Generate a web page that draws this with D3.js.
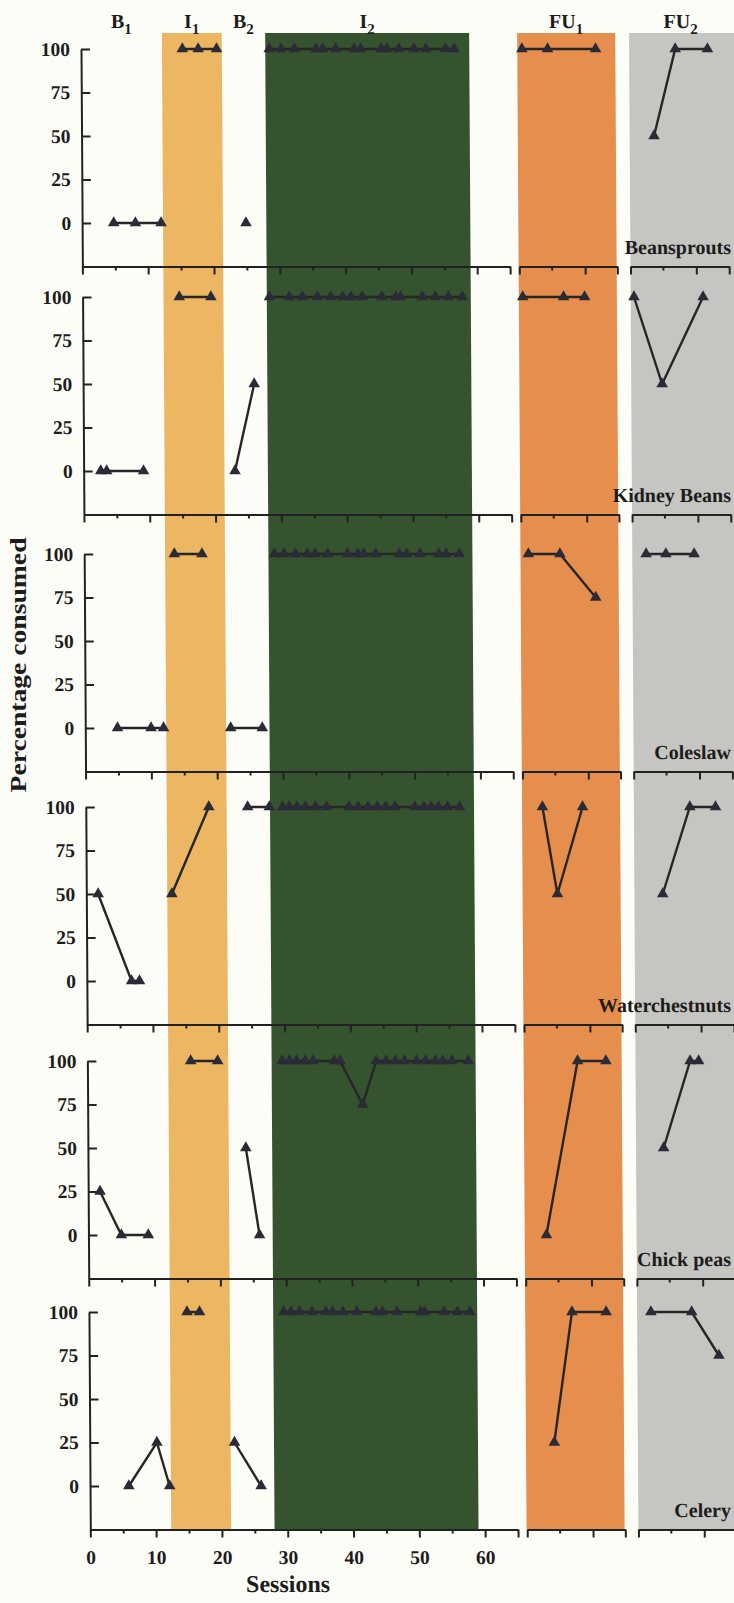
<!DOCTYPE html>
<html>
<head>
<meta charset="utf-8">
<script src="https://cdn.jsdelivr.net/npm/d3@7"></script>
<style>
  body { margin: 0; background: #fdfdf7; }
  svg { display: block; }
  text { font-family: "Liberation Serif", "DejaVu Serif", serif; font-weight: bold; fill: #1c1c1c; }
  .axis path, .axis line { stroke: #222; stroke-width: 2; }
  .axis text { font-family: "Liberation Serif", serif; font-weight: bold; fill: #1c1c1c; }
</style>
</head>
<body>
<div id="chart"></div>
<script>
// foods, one panel each (top to bottom)
var foods = ["Beansprouts", "Kidney Beans", "Coleslaw", "Waterchestnuts", "Chick peas", "Celery"];

// phases: label, subscript, sessions covered by the shaded band
var phaseNames = ["B", "I", "B", "I", "FU", "FU"];
var phaseSubs = ["1", "1", "2", "2", "1", "2"];
var phaseStart = [0, 12.3, 21.4, 28, 66.3, 83.3];
var phaseEnd = [12.3, 21.4, 28, 59, 81.2, 99.5];

// follow-up axes (sessions) and their ticks
var fu1Ticks = [66.4, 71.4, 76.4, 81.3];
var fu2Ticks = [83.3, 88.3, 93.3, 98.3];

var yTicks = [0, 25, 50, 75, 100];
var xLabels = [0, 10, 20, 30, 40, 50, 60];

// [session, percentage consumed], one array per phase
var beansprouts = [
  [[4.8, 0], [8.1, 0], [12, 0]],
  [[15.4, 100], [17.8, 100], [20.6, 100]],
  [[24.9, 0]],
  [[28.6, 100], [30.4, 100], [32.4, 100], [35.7, 100], [36.7, 100], [38.7, 100], [41.5, 100], [42.5, 100],
   [45.6, 100], [46.5, 100], [48.3, 100], [50.6, 100], [52.4, 100], [55.4, 100], [56.7, 100]],
  [[67, 100], [70.9, 100], [78.2, 100]],
  [[87, 50], [90.3, 100], [95.2, 100]]
];
var kidneyBeans = [
  [[2.6, 0], [3.5, 0], [9.1, 0]],
  [[14.7, 100], [19.5, 100]],
  [[23, 0], [26, 50]],
  [[28.4, 100], [31.4, 100], [33.4, 100], [35.7, 100], [37.7, 100], [39.5, 100], [40.8, 100], [42.5, 100],
   [45.5, 100], [47.6, 100], [48.3, 100], [51.6, 100], [53.6, 100], [55.6, 100], [57.7, 100]],
  [[66.9, 100], [73.1, 100], [76.3, 100]],
  [[83.8, 100], [88, 50], [94.3, 100]]
];
var coleslaw = [
  [[4.9, 0], [10, 0], [11.9, 0]],
  [[13.7, 100], [17.9, 100]],
  [[22.1, 0], [26.9, 0]],
  [[28.9, 100], [30.4, 100], [32.1, 100], [33.9, 100], [35.1, 100], [37, 100], [40, 100], [41.6, 100],
   [42.5, 100], [44.3, 100], [47.9, 100], [49, 100], [51, 100], [53.9, 100], [55, 100], [57, 100]],
  [[67.5, 100], [72.3, 100], [77.7, 75]],
  [[85.4, 100], [88.4, 100], [92.7, 100]]
];
var waterchestnuts = [
  [[1.8, 50], [6.8, 0], [8, 0]],
  [[13, 50], [18.7, 100]],
  [[24.6, 100], [27.9, 100]],
  [[29.9, 100], [30.9, 100], [32.1, 100], [33.4, 100], [34.9, 100], [36.6, 100], [40, 100], [41.4, 100],
   [42.9, 100], [44.3, 100], [45.6, 100], [47, 100], [50, 100], [51.4, 100], [52.5, 100], [53.6, 100],
   [55, 100], [56.8, 100]],
  [[69.4, 100], [71.6, 50], [75.5, 100]],
  [[87.6, 50], [91.8, 100], [95.7, 100]]
];
var chickPeas = [
  [[1.8, 25], [5, 0], [9.1, 0]],
  [[15.7, 100], [19.8, 100]],
  [[24, 50], [26, 0]],
  [[29.6, 100], [30.7, 100], [31.8, 100], [33.1, 100], [34.3, 100], [37.5, 100], [38.4, 100], [41.8, 75],
   [43.9, 100], [45.4, 100], [46.8, 100], [48.2, 100], [50, 100], [51.4, 100], [52.9, 100], [54, 100],
   [55.4, 100], [57.9, 100]],
  [[69.6, 0], [74.5, 100], [78.8, 100]],
  [[87.5, 50], [91.6, 100], [92.9, 100]]
];
var celery = [
  [[5.9, 0], [10.2, 25], [12.1, 0]],
  [[14.9, 100], [16.8, 100]],
  [[22, 25], [26, 0]],
  [[29.6, 100], [30.7, 100], [32, 100], [33.9, 100], [36, 100], [37, 100], [38.6, 100], [40.7, 100],
   [43.6, 100], [44.6, 100], [46.8, 100], [50.4, 100], [51, 100], [54, 100], [56, 100], [57.9, 100]],
  [[70.6, 25], [73.4, 100], [78.6, 100]],
  [[85.4, 100], [91.6, 100], [95.7, 75]]
];

var panels = [beansprouts, kidneyBeans, coleslaw, waterchestnuts, chickPeas, celery];

// band colours, null = paper
var phaseFill = [null, "#ecb663", null, "#36532f", "#e68e4e", "#c5c5c1"];

// layout
var width = 734, height = 1603;
var panelTop = [49, 297, 554, 807, 1061, 1312];
var panelH = 217.5;   // from 100 down to the x axis (-25)
var lean = Math.tan(0.36 * Math.PI / 180);

var x = d3.scaleLinear().domain([0, 60]).range([80.7, 80.7 + 60 * 6.58]);

var svg = d3.select("#chart").append("svg")
    .attr("width", width)
    .attr("height", height);

// the scanned figure leans slightly to the right going down
var g = svg.append("g").attr("transform", "skewX(0.36)");

// shaded phase bands, running through all panels
g.append("g").selectAll("rect")
    .data(phaseStart.map(function(s, i) { return {s: s, e: phaseEnd[i], fill: phaseFill[i]}; })
      .filter(function(d) { return d.fill; }))
    .enter().append("rect")
    .attr("x", function(d) { return x(d.s); })
    .attr("width", function(d) { return x(d.e) - x(d.s); })
    .attr("y", 33)
    .attr("height", panelTop[5] + panelH - 33)
    .style("fill", function(d) { return d.fill; });

// phase titles
var titles = g.append("g").selectAll("text")
    .data(phaseNames)
    .enter().append("text")
    .attr("x", function(d, i) { return x((phaseStart[i] + Math.min(phaseEnd[i], 99)) / 2); })
    .attr("y", 28)
    .attr("text-anchor", "middle")
    .style("font-size", "20px");
titles.append("tspan").text(function(d) { return d; });
titles.append("tspan")
    .attr("dy", 6)
    .style("font-size", "15px")
    .text(function(d, i) { return phaseSubs[i]; });

var line = d3.line()
    .x(function(d) { return x(d[0]); });

panels.forEach(function(series, p) {
    var top = panelTop[p];
    var y = d3.scaleLinear().domain([-25, 100]).range([top + panelH, top]);
    var last = p === panels.length - 1;
    var pg = g.append("g");

    // y axis, ticks pointing inwards
    pg.append("g")
        .attr("class", "axis")
        .attr("transform", "translate(" + x(0) + ",0)")
        .call(d3.axisLeft(y).tickValues(yTicks).tickSizeInner(-9).tickSizeOuter(0).tickPadding(11))
        .selectAll("text").style("font-size", "19.5px");

    // main session axis 0-65
    var xMain = d3.scaleLinear().domain([0, 65]).range([x(0), x(65)]);
    pg.append("g")
        .attr("class", "axis")
        .attr("transform", "translate(0," + y(-25) + ")")
        .call(d3.axisBottom(xMain).tickValues(xLabels.concat([65])).tickSizeInner(8).tickSizeOuter(0)
          .tickPadding(13).tickFormat(function(d) { return last && d < 65 ? d : ""; }))
        .selectAll("text").style("font-size", "19.5px");
    pg.append("g")
        .attr("class", "axis")
        .attr("transform", "translate(0," + y(-25) + ")")
        .call(d3.axisBottom(xMain).tickValues([5, 15, 25, 35, 45, 55]).tickSize(4).tickFormat(""))
        .select(".domain").remove();

    // follow-up axes
    [fu1Ticks, fu2Ticks].forEach(function(ticks) {
        var xf = d3.scaleLinear().domain([ticks[0], ticks[3]]).range([x(ticks[0]), x(ticks[3])]);
        var ax = pg.append("g")
            .attr("class", "axis")
            .attr("transform", "translate(0," + y(-25) + ")")
            .call(d3.axisBottom(xf).tickValues([ticks[0], ticks[2], ticks[3]]).tickSizeInner(8).tickSizeOuter(0).tickFormat(""));
        ax.append("line")
            .attr("x1", x(ticks[1])).attr("x2", x(ticks[1]))
            .attr("y1", 0).attr("y2", 4);
    });

    // food name, kept inside the page after the lean
    var yb = y(-25) - 12;
    pg.append("text")
        .attr("x", 731 - lean * yb)
        .attr("y", yb)
        .attr("text-anchor", "end")
        .style("font-size", "20px")
        .text(foods[p]);

    // data paths, phases are not joined
    line.y(function(d) { return y(d[1]); });
    pg.append("g").selectAll("path")
        .data(series)
        .enter().append("path")
        .attr("d", line)
        .style("fill", "none")
        .style("stroke", "#262626")
        .style("stroke-width", 2.4);

    pg.append("g").selectAll("path")
        .data(series.flat())
        .enter().append("path")
        .attr("transform", function(d) { return "translate(" + x(d[0]) + "," + y(d[1]) + ")"; })
        .attr("d", d3.symbol(d3.symbolTriangle, 58))
        .style("fill", "#2a2b36");
});

// axis titles
g.append("text")
    .attr("x", x(30))
    .attr("y", 1592)
    .attr("text-anchor", "middle")
    .style("font-size", "24px")
    .text("Sessions");

svg.append("text")
    .attr("transform", "translate(26,665) rotate(-90)")
    .attr("text-anchor", "middle")
    .attr("textLength", 255)
    .attr("lengthAdjust", "spacingAndGlyphs")
    .style("font-size", "24px")
    .text("Percentage consumed");
</script>
</body>
</html>
